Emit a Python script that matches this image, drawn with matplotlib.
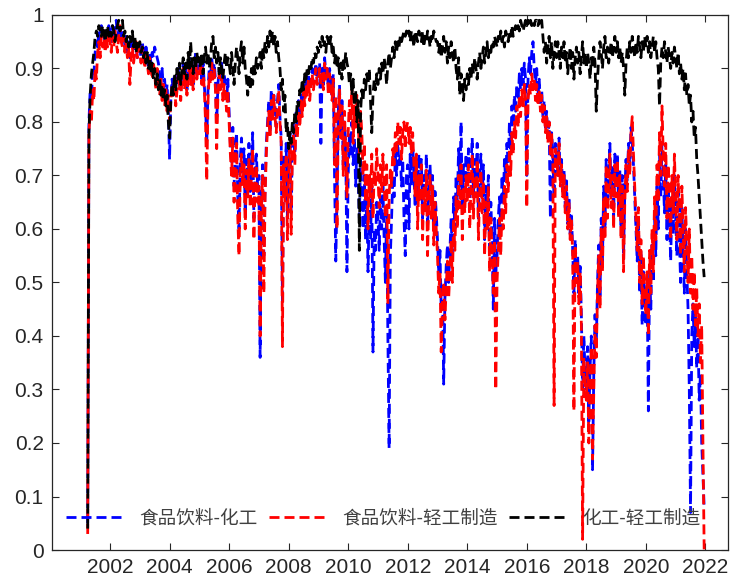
import matplotlib
matplotlib.use("Agg")
import matplotlib.pyplot as plt
import numpy as np

plt.rcParams['font.family'] = ['Liberation Sans', 'Noto Sans CJK SC', 'DejaVu Sans']

labels = ["食品饮料-化工", "食品饮料-轻工制造", "化工-轻工制造"]
start_year = 2001.25   # first observation, half-monthly after that
step = 1 / 24

# 食品饮料-化工
food_chem = [
    0.05, 0.80, 0.86, 0.84, 0.90, 0.89, 0.93, 0.95, 0.94, 0.97, 0.95, 0.98, 0.96, 0.97, 0.95, 0.97, 0.96, 0.98,
    0.97, 0.95, 0.98, 0.96, 0.97, 0.99, 0.96, 0.97, 0.98, 0.96, 0.95, 0.97, 0.94, 0.96, 0.93, 0.95, 0.92, 0.94, 0.96, 0.93, 0.95, 0.94, 0.92, 0.95,
    0.94, 0.92, 0.95, 0.93, 0.91, 0.94, 0.92, 0.90, 0.93, 0.91, 0.93, 0.92, 0.94, 0.93, 0.92, 0.91, 0.89, 0.87, 0.90, 0.86, 0.88, 0.84, 0.87, 0.82,
    0.73, 0.84, 0.88, 0.86, 0.89, 0.85, 0.88, 0.90, 0.87, 0.86, 0.89, 0.91, 0.88, 0.90, 0.86, 0.89, 0.92, 0.88, 0.91, 0.87, 0.90, 0.93, 0.89, 0.91,
    0.90, 0.92, 0.88, 0.91, 0.87, 0.83, 0.76, 0.86, 0.90, 0.88, 0.92, 0.89, 0.91, 0.88, 0.80, 0.87, 0.90, 0.88, 0.91, 0.86, 0.89, 0.87, 0.84, 0.88,
    0.82, 0.76, 0.72, 0.79, 0.68, 0.75, 0.78, 0.66, 0.60, 0.73, 0.77, 0.70, 0.75, 0.63, 0.73, 0.69, 0.76, 0.67, 0.72, 0.78, 0.62, 0.71, 0.74, 0.68,
    0.70, 0.36, 0.65, 0.72, 0.55, 0.68, 0.76, 0.80, 0.84, 0.78, 0.86, 0.82, 0.85, 0.83, 0.79, 0.84, 0.87, 0.81, 0.77, 0.46, 0.74, 0.67, 0.76, 0.62,
    0.72, 0.78, 0.63, 0.76, 0.80, 0.74, 0.82, 0.79, 0.84, 0.81, 0.85, 0.83, 0.87, 0.85, 0.88, 0.86, 0.89, 0.86, 0.88, 0.90, 0.87, 0.89, 0.91, 0.88,
    0.89, 0.91, 0.76, 0.90, 0.87, 0.92, 0.89, 0.90, 0.86, 0.90, 0.88, 0.85, 0.89, 0.70, 0.54, 0.66, 0.82, 0.87, 0.78, 0.84, 0.72, 0.80, 0.76, 0.52,
    0.70, 0.78, 0.74, 0.80, 0.72, 0.77, 0.68, 0.75, 0.70, 0.62, 0.73, 0.66, 0.60, 0.70, 0.58, 0.66, 0.52, 0.64, 0.58, 0.68, 0.37, 0.60, 0.56, 0.65,
    0.62, 0.56, 0.66, 0.60, 0.68, 0.58, 0.50, 0.64, 0.40, 0.19, 0.55, 0.62, 0.70, 0.66, 0.74, 0.70, 0.76, 0.72, 0.74, 0.68, 0.73, 0.62, 0.55, 0.70,
    0.72, 0.60, 0.74, 0.68, 0.76, 0.70, 0.64, 0.72, 0.66, 0.74, 0.68, 0.73, 0.62, 0.70, 0.66, 0.74, 0.60, 0.69, 0.72, 0.65, 0.70, 0.60, 0.67, 0.63,
    0.58, 0.52, 0.56, 0.45, 0.50, 0.31, 0.47, 0.53, 0.57, 0.50, 0.56, 0.62, 0.55, 0.66, 0.60, 0.70, 0.65, 0.75, 0.68, 0.80, 0.64, 0.72, 0.67, 0.74,
    0.68, 0.75, 0.64, 0.72, 0.77, 0.66, 0.73, 0.69, 0.76, 0.62, 0.70, 0.74, 0.66, 0.72, 0.58, 0.68, 0.63, 0.70, 0.55, 0.65, 0.58, 0.45, 0.62, 0.52,
    0.55, 0.62, 0.66, 0.60, 0.70, 0.65, 0.73, 0.69, 0.76, 0.72, 0.80, 0.75, 0.83, 0.79, 0.85, 0.82, 0.87, 0.84, 0.89, 0.86, 0.90, 0.87, 0.91, 0.88,
    0.70, 0.88, 0.92, 0.89, 0.93, 0.95, 0.90, 0.87, 0.90, 0.85, 0.88, 0.83, 0.86, 0.81, 0.84, 0.79, 0.82, 0.77, 0.80, 0.62, 0.78, 0.74, 0.66, 0.76,
    0.74, 0.70, 0.77, 0.69, 0.73, 0.67, 0.71, 0.64, 0.69, 0.61, 0.66, 0.59, 0.63, 0.56, 0.48, 0.58, 0.52, 0.55, 0.48, 0.53, 0.44, 0.30, 0.40, 0.33,
    0.30, 0.38, 0.24, 0.34, 0.40, 0.15, 0.33, 0.44, 0.38, 0.50, 0.57, 0.47, 0.62, 0.54, 0.68, 0.60, 0.73, 0.64, 0.70, 0.76, 0.66, 0.72, 0.62, 0.74,
    0.68, 0.74, 0.64, 0.71, 0.60, 0.70, 0.55, 0.67, 0.73, 0.69, 0.76, 0.72, 0.79, 0.76, 0.72, 0.66, 0.60, 0.54, 0.62, 0.48, 0.56, 0.42, 0.52, 0.45,
    0.42, 0.50, 0.26, 0.52, 0.45, 0.57, 0.50, 0.62, 0.55, 0.68, 0.60, 0.74, 0.66, 0.76, 0.70, 0.63, 0.72, 0.58, 0.68, 0.62, 0.54, 0.66, 0.59, 0.70,
    0.62, 0.55, 0.67, 0.58, 0.50, 0.64, 0.56, 0.48, 0.60, 0.52, 0.45, 0.30, 0.07, 0.40, 0.46, 0.38, 0.44, 0.34, 0.40, 0.28, 0.33, 0.20, 0.14, 0.08,
]

# 食品饮料-轻工制造
food_light = [
    0.03, 0.78, 0.82, 0.80, 0.86, 0.84, 0.90, 0.88, 0.93, 0.95, 0.92, 0.96, 0.94, 0.97, 0.93, 0.96, 0.94, 0.97,
    0.95, 0.93, 0.96, 0.94, 0.97, 0.95, 0.93, 0.96, 0.98, 0.95, 0.94, 0.96, 0.93, 0.95, 0.92, 0.94, 0.87, 0.92, 0.94, 0.91, 0.93, 0.95, 0.92, 0.94,
    0.93, 0.91, 0.94, 0.92, 0.90, 0.93, 0.91, 0.89, 0.92, 0.90, 0.88, 0.91, 0.89, 0.86, 0.90, 0.87, 0.85, 0.88, 0.84, 0.87, 0.83, 0.86, 0.82, 0.85,
    0.80, 0.84, 0.87, 0.85, 0.88, 0.83, 0.86, 0.89, 0.87, 0.84, 0.88, 0.90, 0.86, 0.89, 0.85, 0.88, 0.91, 0.87, 0.90, 0.86, 0.89, 0.92, 0.88, 0.90,
    0.89, 0.91, 0.87, 0.90, 0.86, 0.80, 0.69, 0.84, 0.89, 0.87, 0.91, 0.88, 0.90, 0.86, 0.75, 0.85, 0.89, 0.86, 0.88, 0.84, 0.87, 0.85, 0.82, 0.86,
    0.80, 0.74, 0.70, 0.77, 0.65, 0.72, 0.76, 0.62, 0.55, 0.70, 0.74, 0.68, 0.72, 0.60, 0.71, 0.66, 0.73, 0.64, 0.70, 0.75, 0.58, 0.69, 0.72, 0.65,
    0.68, 0.40, 0.63, 0.70, 0.48, 0.66, 0.74, 0.79, 0.82, 0.77, 0.84, 0.80, 0.85, 0.81, 0.78, 0.83, 0.86, 0.80, 0.76, 0.38, 0.72, 0.65, 0.74, 0.58,
    0.70, 0.76, 0.59, 0.74, 0.78, 0.72, 0.80, 0.77, 0.82, 0.79, 0.84, 0.81, 0.86, 0.83, 0.87, 0.85, 0.88, 0.84, 0.87, 0.89, 0.86, 0.88, 0.90, 0.87,
    0.88, 0.90, 0.87, 0.89, 0.86, 0.91, 0.88, 0.90, 0.85, 0.89, 0.87, 0.84, 0.88, 0.72, 0.85, 0.60, 0.80, 0.86, 0.77, 0.83, 0.70, 0.82, 0.75, 0.66,
    0.78, 0.84, 0.80, 0.86, 0.76, 0.83, 0.79, 0.85, 0.81, 0.74, 0.82, 0.78, 0.70, 0.76, 0.65, 0.72, 0.60, 0.70, 0.66, 0.74, 0.62, 0.71, 0.68, 0.75,
    0.70, 0.64, 0.72, 0.67, 0.74, 0.69, 0.62, 0.72, 0.46, 0.66, 0.71, 0.68, 0.75, 0.72, 0.78, 0.74, 0.80, 0.76, 0.79, 0.73, 0.78, 0.80, 0.75, 0.79,
    0.80, 0.76, 0.79, 0.74, 0.78, 0.72, 0.66, 0.74, 0.60, 0.70, 0.65, 0.72, 0.58, 0.68, 0.63, 0.71, 0.55, 0.66, 0.70, 0.62, 0.68, 0.57, 0.65, 0.60,
    0.55, 0.48, 0.52, 0.37, 0.46, 0.50, 0.43, 0.49, 0.54, 0.47, 0.52, 0.58, 0.50, 0.62, 0.56, 0.66, 0.60, 0.70, 0.64, 0.72, 0.58, 0.68, 0.63, 0.70,
    0.65, 0.72, 0.60, 0.68, 0.74, 0.62, 0.70, 0.66, 0.73, 0.58, 0.67, 0.71, 0.63, 0.69, 0.55, 0.65, 0.60, 0.68, 0.52, 0.62, 0.56, 0.48, 0.58, 0.30,
    0.50, 0.56, 0.62, 0.55, 0.64, 0.60, 0.68, 0.63, 0.72, 0.67, 0.75, 0.70, 0.78, 0.74, 0.80, 0.77, 0.83, 0.79, 0.85, 0.81, 0.86, 0.83, 0.87, 0.84,
    0.64, 0.84, 0.87, 0.85, 0.89, 0.86, 0.88, 0.84, 0.87, 0.83, 0.86, 0.82, 0.85, 0.80, 0.83, 0.78, 0.81, 0.76, 0.80, 0.74, 0.78, 0.72, 0.27, 0.75,
    0.73, 0.70, 0.76, 0.68, 0.72, 0.66, 0.70, 0.63, 0.68, 0.60, 0.65, 0.58, 0.62, 0.55, 0.26, 0.57, 0.50, 0.54, 0.46, 0.52, 0.42, 0.02, 0.36, 0.30,
    0.28, 0.35, 0.20, 0.32, 0.38, 0.17, 0.30, 0.42, 0.36, 0.48, 0.55, 0.45, 0.60, 0.52, 0.66, 0.58, 0.72, 0.62, 0.68, 0.74, 0.64, 0.70, 0.60, 0.72,
    0.66, 0.73, 0.62, 0.70, 0.58, 0.68, 0.52, 0.65, 0.72, 0.67, 0.75, 0.70, 0.78, 0.81, 0.74, 0.68, 0.62, 0.56, 0.64, 0.50, 0.58, 0.46, 0.55, 0.48,
    0.44, 0.52, 0.40, 0.56, 0.48, 0.60, 0.52, 0.66, 0.58, 0.72, 0.65, 0.78, 0.70, 0.83, 0.74, 0.68, 0.76, 0.62, 0.72, 0.66, 0.58, 0.70, 0.63, 0.74,
    0.66, 0.58, 0.70, 0.62, 0.55, 0.68, 0.60, 0.52, 0.64, 0.57, 0.50, 0.60, 0.48, 0.55, 0.45, 0.52, 0.42, 0.49, 0.40, 0.46, 0.35, 0.42, 0.20, 0.00,
]

# 化工-轻工制造
chem_light = [
    0.04, 0.78, 0.85, 0.89, 0.91, 0.93, 0.96, 0.97, 0.96, 0.98, 0.97, 0.96, 0.98, 0.97, 0.95, 0.97, 0.98, 0.96,
    0.97, 0.96, 0.98, 0.97, 0.95, 0.97, 0.98, 0.99, 0.97, 0.98, 0.99, 0.96, 0.97, 0.95, 0.96, 0.94, 0.96, 0.95, 0.97, 0.94, 0.96, 0.93, 0.95, 0.94,
    0.95, 0.93, 0.94, 0.92, 0.93, 0.91, 0.93, 0.90, 0.92, 0.89, 0.91, 0.88, 0.90, 0.87, 0.89, 0.86, 0.88, 0.85, 0.87, 0.84, 0.86, 0.83, 0.85, 0.80,
    0.77, 0.84, 0.87, 0.85, 0.89, 0.86, 0.90, 0.88, 0.91, 0.87, 0.90, 0.92, 0.89, 0.91, 0.88, 0.93, 0.90, 0.95, 0.91, 0.89, 0.92, 0.90, 0.93, 0.91,
    0.92, 0.90, 0.93, 0.89, 0.92, 0.94, 0.91, 0.93, 0.90, 0.92, 0.95, 0.96, 0.92, 0.94, 0.91, 0.93, 0.89, 0.92, 0.90, 0.88, 0.91, 0.93, 0.90, 0.92,
    0.91, 0.89, 0.93, 0.90, 0.87, 0.91, 0.94, 0.92, 0.89, 0.93, 0.95, 0.91, 0.94, 0.90, 0.88, 0.85, 0.89, 0.86, 0.90, 0.87, 0.91, 0.89, 0.92, 0.90,
    0.91, 0.93, 0.90, 0.94, 0.92, 0.95, 0.93, 0.96, 0.94, 0.97, 0.95, 0.97, 0.94, 0.96, 0.93, 0.95, 0.92, 0.90, 0.86, 0.88, 0.82, 0.85, 0.78, 0.80,
    0.75, 0.78, 0.76, 0.80, 0.78, 0.82, 0.80, 0.84, 0.83, 0.86, 0.85, 0.88, 0.86, 0.89, 0.88, 0.90, 0.89, 0.91, 0.90, 0.92, 0.91, 0.93, 0.92, 0.94,
    0.93, 0.95, 0.94, 0.96, 0.94, 0.95, 0.93, 0.96, 0.95, 0.94, 0.96, 0.93, 0.94, 0.91, 0.93, 0.90, 0.92, 0.89, 0.91, 0.88, 0.92, 0.90, 0.93, 0.91,
    0.90, 0.87, 0.89, 0.85, 0.88, 0.83, 0.86, 0.80, 0.84, 0.56, 0.82, 0.86, 0.84, 0.88, 0.86, 0.89, 0.87, 0.90, 0.84, 0.78, 0.85, 0.88, 0.86, 0.89,
    0.87, 0.90, 0.88, 0.91, 0.89, 0.92, 0.90, 0.87, 0.91, 0.93, 0.90, 0.92, 0.94, 0.92, 0.95, 0.93, 0.95, 0.94, 0.96, 0.95, 0.96, 0.97, 0.96, 0.97,
    0.96, 0.97, 0.95, 0.97, 0.96, 0.94, 0.97, 0.96, 0.95, 0.97, 0.96, 0.95, 0.97, 0.94, 0.96, 0.95, 0.97, 0.96, 0.94, 0.96, 0.95, 0.97, 0.96, 0.95,
    0.95, 0.93, 0.95, 0.92, 0.94, 0.96, 0.93, 0.95, 0.91, 0.94, 0.92, 0.95, 0.93, 0.91, 0.94, 0.90, 0.88, 0.92, 0.85, 0.89, 0.87, 0.84, 0.88, 0.86,
    0.89, 0.87, 0.90, 0.88, 0.91, 0.89, 0.92, 0.90, 0.88, 0.91, 0.93, 0.90, 0.92, 0.94, 0.91, 0.93, 0.95, 0.92, 0.94, 0.93, 0.95, 0.94, 0.96, 0.95,
    0.94, 0.96, 0.95, 0.97, 0.95, 0.96, 0.94, 0.97, 0.96, 0.95, 0.97, 0.96, 0.98, 0.96, 0.97, 0.98, 0.97, 0.98, 0.97, 0.99, 0.98, 0.97, 0.98, 0.99,
    0.98, 0.99, 0.98, 0.99, 0.98, 0.99, 0.98, 0.99, 0.99, 0.98, 0.99, 0.98, 0.99, 0.96, 0.93, 0.95, 0.91, 0.94, 0.96, 0.92, 0.95, 0.90, 0.93, 0.95,
    0.92, 0.95, 0.93, 0.90, 0.94, 0.92, 0.95, 0.91, 0.93, 0.89, 0.92, 0.94, 0.90, 0.93, 0.88, 0.92, 0.94, 0.91, 0.93, 0.89, 0.92, 0.95, 0.91, 0.93,
    0.90, 0.93, 0.91, 0.88, 0.92, 0.90, 0.94, 0.91, 0.82, 0.88, 0.92, 0.95, 0.93, 0.90, 0.94, 0.96, 0.92, 0.94, 0.91, 0.93, 0.95, 0.92, 0.94, 0.96,
    0.93, 0.95, 0.92, 0.94, 0.91, 0.93, 0.90, 0.85, 0.91, 0.94, 0.92, 0.95, 0.93, 0.96, 0.94, 0.92, 0.95, 0.93, 0.96, 0.94, 0.92, 0.95, 0.93, 0.96,
    0.94, 0.96, 0.93, 0.95, 0.92, 0.94, 0.96, 0.93, 0.95, 0.92, 0.90, 0.83, 0.91, 0.94, 0.92, 0.95, 0.93, 0.91, 0.94, 0.92, 0.90, 0.93, 0.91, 0.94,
    0.92, 0.90, 0.93, 0.89, 0.91, 0.88, 0.90, 0.86, 0.89, 0.85, 0.87, 0.83, 0.85, 0.80, 0.82, 0.77, 0.79, 0.73, 0.70, 0.66, 0.62, 0.58, 0.54, 0.51,
]

series = [food_chem, food_light, chem_light]
colors = ["#0000ff", "#ff0000", "#000000"]

fig = plt.figure(figsize=(7.32, 5.88), dpi=100)
ax = fig.add_axes([0.071, 0.0646, 0.924, 0.910])

for vals, col, lab in zip(series, colors, labels):
    t = start_year + np.arange(len(vals)) * step
    ax.plot(t, vals, color=col, lw=2.0, dashes=(3.6, 1.8), label=lab)

ax.set_xlim(2000.05, 2022.77)
ax.set_ylim(0, 1)
ax.set_xticks(np.arange(2002, 2023, 2))
yt = np.round(np.arange(0, 1.01, 0.1), 1)
ax.set_yticks(yt)
ax.set_yticklabels(["%g" % v for v in yt])
ax.tick_params(direction="in", length=5, width=0.8, top=True, right=True,
               labelsize=15, colors="#262626", pad=6)
for s in ax.spines.values():
    s.set_color("#262626")
    s.set_linewidth(0.9)

leg = ax.legend(loc="center", bbox_to_anchor=(0.49, 0.058), ncol=3, frameon=False,
                prop={"family": ["Noto Sans CJK SC", "DejaVu Sans"], "size": 13.4},
                handlelength=3.2, handletextpad=0.75, columnspacing=0.6)
for txt in leg.get_texts():
    txt.set_color("#404040")

fig.savefig("out.png", dpi=100)
